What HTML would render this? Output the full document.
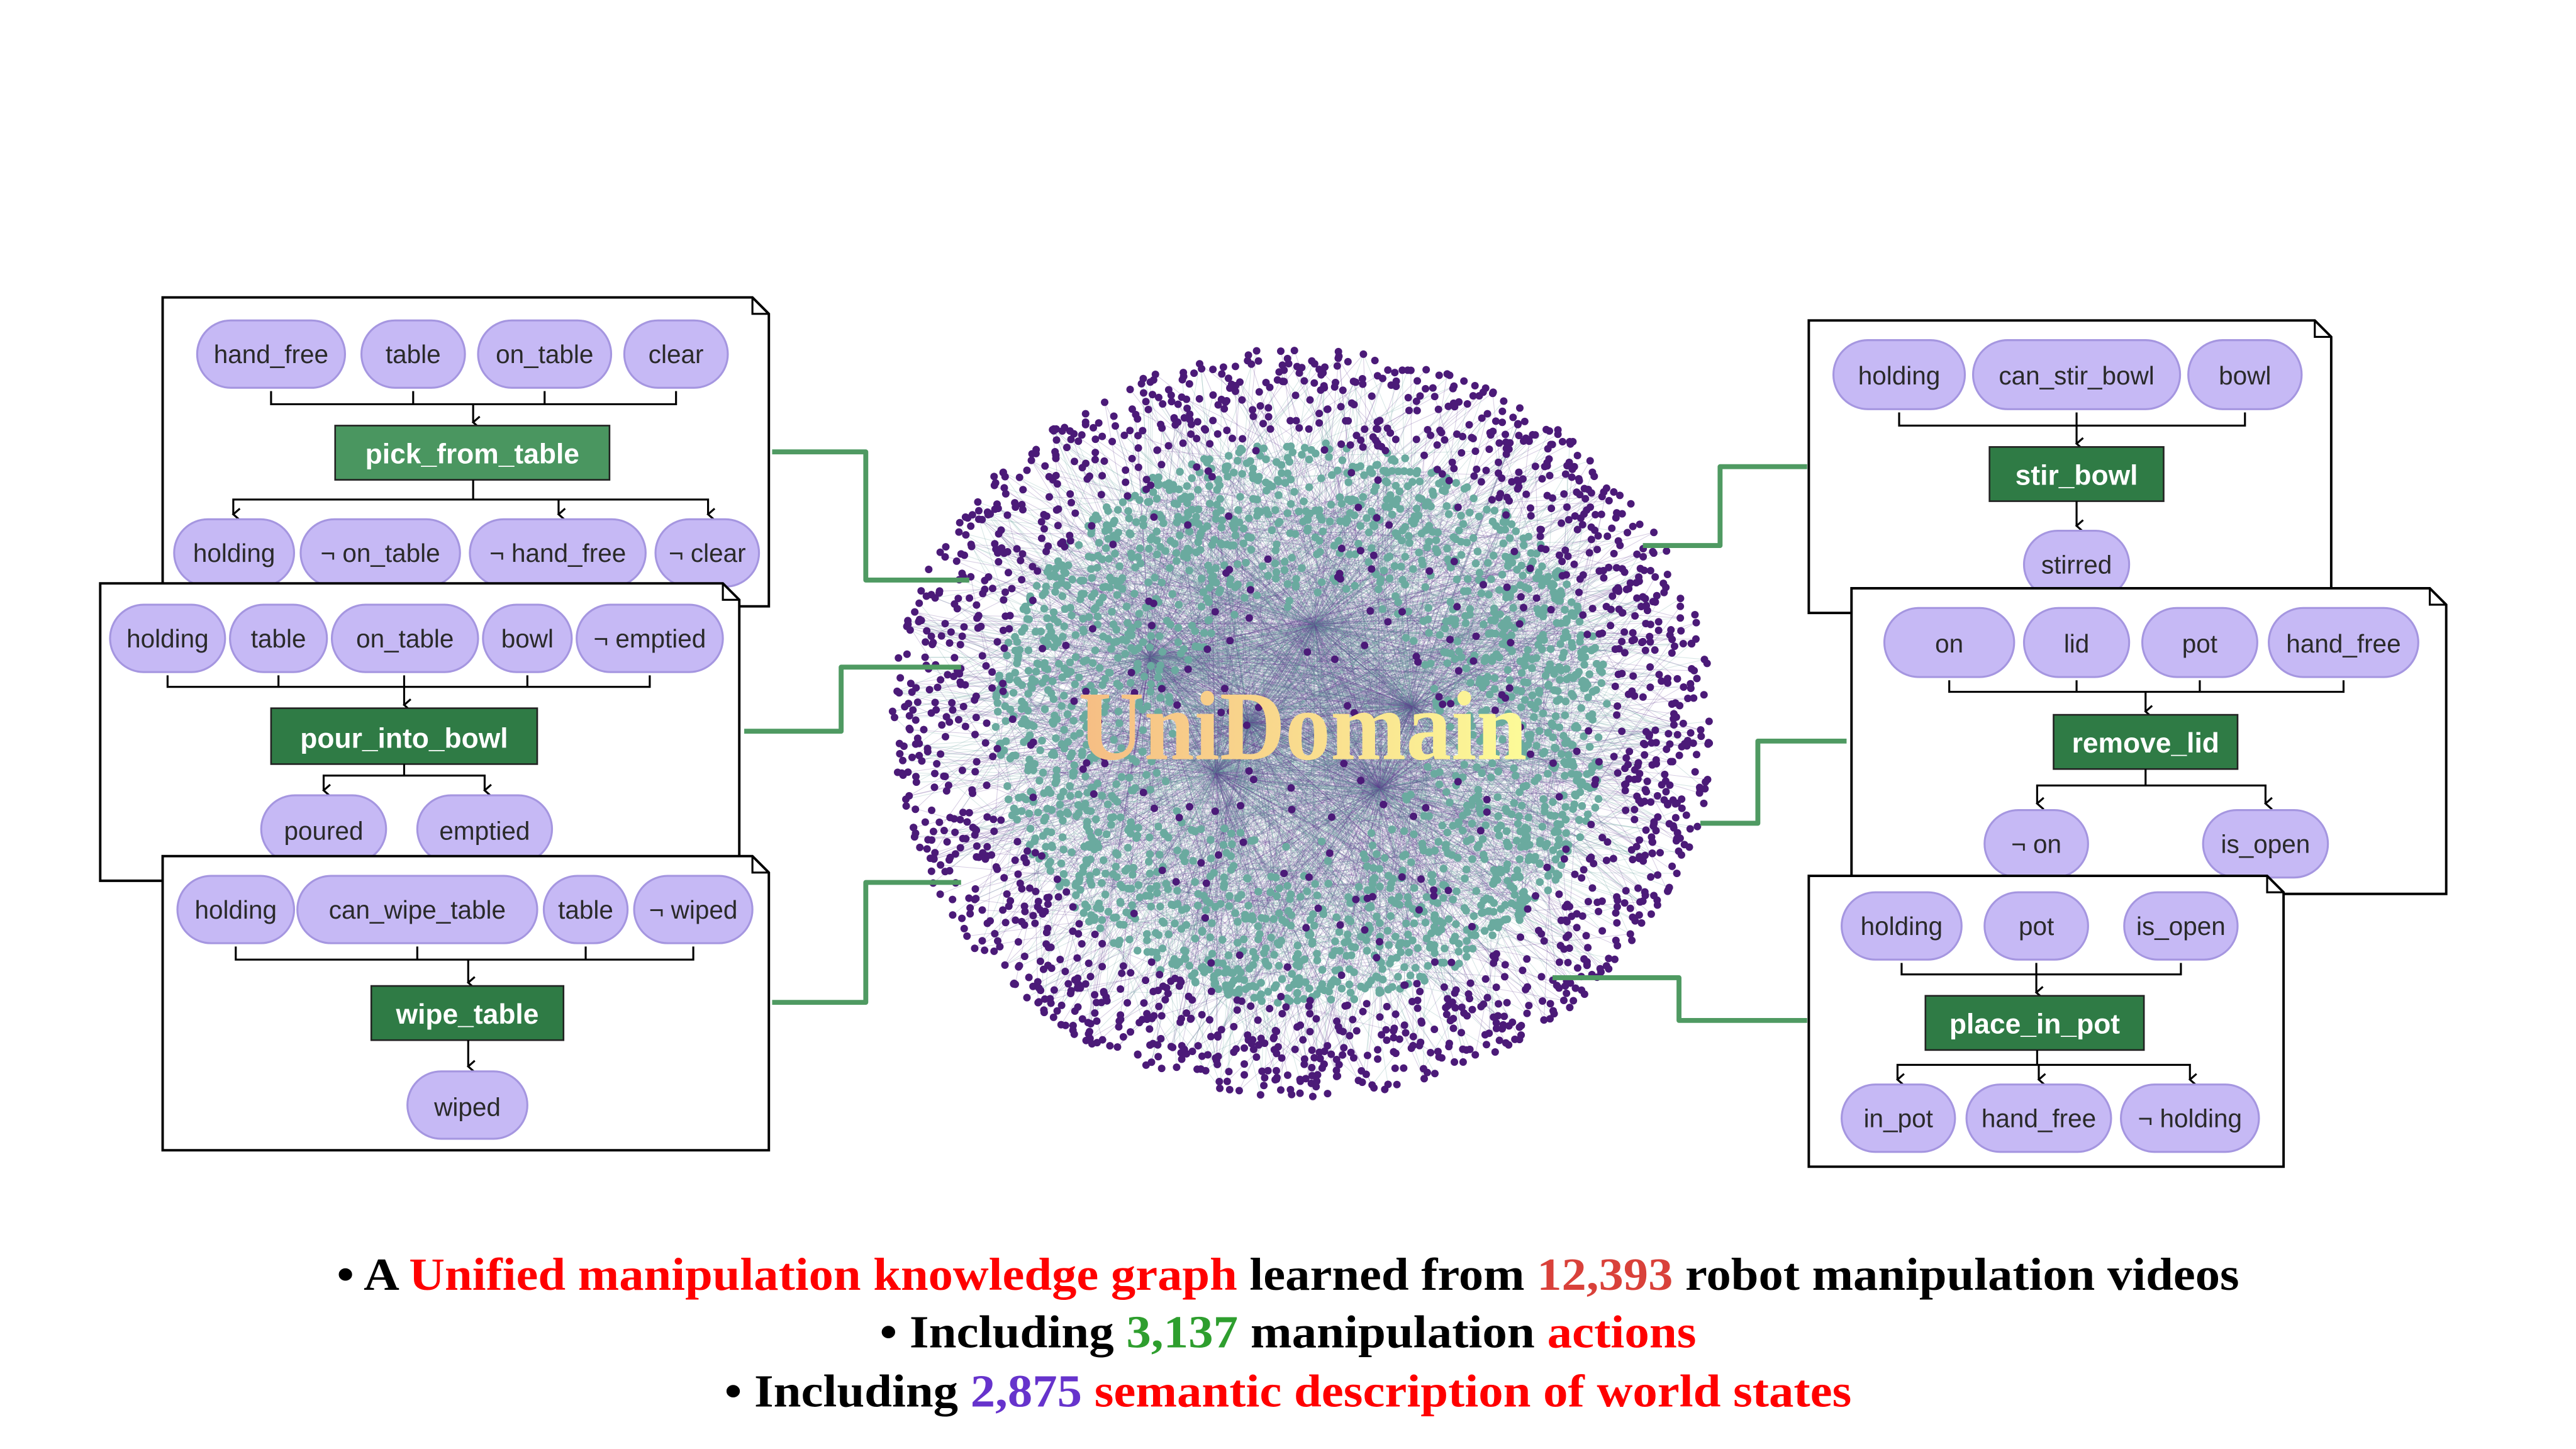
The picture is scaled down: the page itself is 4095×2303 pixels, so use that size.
<!DOCTYPE html>
<html><head><meta charset="utf-8"><style>
html,body{margin:0;padding:0;background:#fff;overflow:hidden}
svg{display:block}
.pl rect{fill:#c6b9f5;stroke:#a596e0;stroke-width:1.2}
.pt{font-family:"Liberation Sans",sans-serif;font-size:15.5px;fill:#2a2a2a;text-anchor:middle}
.bx{fill:#2f7b45;stroke:#222;stroke-width:1}
.bt{font-family:"Liberation Sans",sans-serif;font-size:17px;font-weight:bold;fill:#fff;text-anchor:middle}
.pn{fill:#fff;stroke:#000;stroke-width:1.5}
.ln{fill:none;stroke:#000;stroke-width:1.2}
.gc{fill:none;stroke:#4f9a62;stroke-width:3;stroke-linejoin:round}
.cap{font-family:"Liberation Serif",serif;font-weight:bold;font-size:28px}
</style></head><body>
<svg id="s" width="4095" height="2303" viewBox="0 0 1568 881.8" preserveAspectRatio="none" xmlns="http://www.w3.org/2000/svg">
<defs>
<marker id="ar" markerWidth="8" markerHeight="8" refX="4" refY="6" orient="auto-start-reverse" markerUnits="userSpaceOnUse">
<polyline points="0.5,2 4,6 7.5,2" fill="none" stroke="#000" stroke-width="1.2"/></marker>
<linearGradient id="ug" x1="0" x2="1" y1="0" y2="0"><stop offset="0" stop-color="#f6bd84"/><stop offset="1" stop-color="#fcfb98"/></linearGradient>
</defs>
<g id="graph"></g>
<text x="793" y="462" text-anchor="middle" font-family="Liberation Serif,serif" font-weight="bold" font-size="60" fill="url(#ug)" textLength="273" lengthAdjust="spacingAndGlyphs">UniDomain</text>

<!-- connectors -->
<path class="gc" d="M470,275 H527 V353 H590"/>
<path class="gc" d="M453,445 H512 V406 H585"/>
<path class="gc" d="M470,610 H527 V537 H585"/>
<path class="gc" d="M1100,284 H1047 V332 H1000"/>
<path class="gc" d="M1124,451 H1070 V501 H1035"/>
<path class="gc" d="M1100,621 H1022 V595 H945"/>

<!-- Panel 1 -->
<path class="pn" d="M99,181 H458 L468,191 V369 H99 Z"/><path d="M458,181 V191 H468" class="ln"/>
<g class="pl"><rect x="120" y="195" width="90" height="41" rx="20.5"/><rect x="220" y="195" width="63" height="41" rx="20.5"/><rect x="291" y="195" width="81" height="41" rx="20.5"/><rect x="380" y="195" width="63" height="41" rx="20.5"/></g>
<g class="pt"><text x="165" y="221">hand_free</text><text x="251.5" y="221">table</text><text x="331.5" y="221">on_table</text><text x="411.5" y="221">clear</text></g>
<path class="ln" d="M165,238 V246 H411.5 V238 M251.5,238 V246 M331.5,238 V246"/>
<path class="ln" d="M288,246 V257" marker-end="url(#ar)"/>
<rect class="bx" x="204" y="259" width="167" height="33" style="fill:#4a9660"/><text class="bt" x="287.5" y="282">pick_from_table</text>
<path class="ln" d="M288,292 V304"/><path class="ln" d="M142,313 V304 H431 V313" marker-start="url(#ar)" marker-end="url(#ar)"/><path class="ln" d="M340,304 V313" marker-end="url(#ar)"/>
<g class="pl"><rect x="106" y="316" width="73" height="41" rx="20.5"/><rect x="183" y="316" width="97" height="41" rx="20.5"/><rect x="286" y="316" width="107" height="41" rx="20.5"/><rect x="399" y="316" width="63" height="41" rx="20.5"/></g>
<g class="pt"><text x="142.5" y="342">holding</text><text x="231.5" y="342">¬ on_table</text><text x="339.5" y="342">¬ hand_free</text><text x="430.5" y="342">¬ clear</text></g>

<!-- Panel 2 -->
<path class="pn" d="M61,355 H440 L450,365 V536 H61 Z"/><path d="M440,355 V365 H450" class="ln"/>
<g class="pl"><rect x="67" y="368" width="70" height="41" rx="20.5"/><rect x="140" y="368" width="59" height="41" rx="20.5"/><rect x="202" y="368" width="89" height="41" rx="20.5"/><rect x="294" y="368" width="54" height="41" rx="20.5"/><rect x="351" y="368" width="89" height="41" rx="20.5"/></g>
<g class="pt"><text x="102" y="394">holding</text><text x="169.5" y="394">table</text><text x="246.5" y="394">on_table</text><text x="321" y="394">bowl</text><text x="395.5" y="394">¬ emptied</text></g>
<path class="ln" d="M102,411 V418 H395.5 V411 M169.5,411 V418 M321,411 V418"/>
<path class="ln" d="M246,411 V429" marker-end="url(#ar)"/>
<rect class="bx" x="165" y="431" width="162" height="34"/><text class="bt" x="246" y="455">pour_into_bowl</text>
<path class="ln" d="M246,465 V472"/><path class="ln" d="M197,481 V472 H295 V481" marker-start="url(#ar)" marker-end="url(#ar)"/>
<g class="pl"><rect x="159" y="484" width="76" height="41" rx="20.5"/><rect x="254" y="484" width="82" height="41" rx="20.5"/></g>
<g class="pt"><text x="197" y="511">poured</text><text x="295" y="511">emptied</text></g>

<!-- Panel 3 -->
<path class="pn" d="M99,521 H458 L468,531 V700 H99 Z"/><path d="M458,521 V531 H468" class="ln"/>
<g class="pl"><rect x="108" y="533" width="71" height="41" rx="20.5"/><rect x="181" y="533" width="146" height="41" rx="20.5"/><rect x="331" y="533" width="51" height="41" rx="20.5"/><rect x="386" y="533" width="72" height="41" rx="20.5"/></g>
<g class="pt"><text x="143.5" y="559">holding</text><text x="254" y="559">can_wipe_table</text><text x="356.5" y="559">table</text><text x="422" y="559">¬ wiped</text></g>
<path class="ln" d="M143.5,576 V584 H422 V576 M254,576 V584 M356.5,576 V584"/>
<path class="ln" d="M285,584 V598" marker-end="url(#ar)"/>
<rect class="bx" x="226" y="600" width="117" height="33"/><text class="bt" x="284.5" y="623">wipe_table</text>
<path class="ln" d="M285,633 V649" marker-end="url(#ar)"/>
<g class="pl"><rect x="248" y="652" width="73" height="41" rx="20.5"/></g>
<g class="pt"><text x="284.5" y="679">wiped</text></g>

<!-- Right A -->
<path class="pn" d="M1101,195 H1409 L1419,205 V373 H1101 Z"/><path d="M1409,195 V205 H1419" class="ln"/>
<g class="pl"><rect x="1116" y="207" width="80" height="42" rx="21"/><rect x="1201" y="207" width="126" height="42" rx="21"/><rect x="1332" y="207" width="69" height="42" rx="21"/></g>
<g class="pt"><text x="1156" y="234">holding</text><text x="1264" y="234">can_stir_bowl</text><text x="1366.5" y="234">bowl</text></g>
<path class="ln" d="M1156,251 V259 H1366.5 V251"/>
<path class="ln" d="M1264,251 V270" marker-end="url(#ar)"/>
<rect class="bx" x="1211" y="272" width="106" height="33"/><text class="bt" x="1264" y="295">stir_bowl</text>
<path class="ln" d="M1264,305 V320" marker-end="url(#ar)"/>
<g class="pl"><rect x="1232" y="323" width="64" height="41" rx="20.5"/></g>
<g class="pt"><text x="1264" y="349">stirred</text></g>

<!-- Right B -->
<path class="pn" d="M1127,358 H1479 L1489,368 V544 H1127 Z"/><path d="M1479,358 V368 H1489" class="ln"/>
<g class="pl"><rect x="1147" y="370" width="79" height="42" rx="21"/><rect x="1232" y="370" width="64" height="42" rx="21"/><rect x="1304" y="370" width="70" height="42" rx="21"/><rect x="1381" y="370" width="91" height="42" rx="21"/></g>
<g class="pt"><text x="1186.5" y="397">on</text><text x="1264" y="397">lid</text><text x="1339" y="397">pot</text><text x="1426.5" y="397">hand_free</text></g>
<path class="ln" d="M1186.5,414 V421 H1426.5 V414 M1264,414 V421 M1339,414 V421"/>
<path class="ln" d="M1306,421 V433" marker-end="url(#ar)"/>
<rect class="bx" x="1250" y="435" width="112" height="33"/><text class="bt" x="1306" y="458">remove_lid</text>
<path class="ln" d="M1306,468 V478"/><path class="ln" d="M1240,489 V478 H1379 V489" marker-start="url(#ar)" marker-end="url(#ar)"/>
<g class="pl"><rect x="1208" y="493" width="63" height="41" rx="20.5"/><rect x="1341" y="493" width="76" height="41" rx="20.5"/></g>
<g class="pt"><text x="1239.5" y="519">¬ on</text><text x="1379" y="519">is_open</text></g>

<!-- Right C -->
<path class="pn" d="M1101,533 H1380 L1390,543 V710 H1101 Z"/><path d="M1380,533 V543 H1390" class="ln"/>
<g class="pl"><rect x="1121" y="543" width="73" height="41" rx="20.5"/><rect x="1208" y="543" width="63" height="41" rx="20.5"/><rect x="1293" y="543" width="69" height="41" rx="20.5"/></g>
<g class="pt"><text x="1157.5" y="569">holding</text><text x="1239.5" y="569">pot</text><text x="1327.5" y="569">is_open</text></g>
<path class="ln" d="M1157.5,586 V593 H1327.5 V586"/>
<path class="ln" d="M1239.5,586 V604" marker-end="url(#ar)"/>
<rect class="bx" x="1172" y="606" width="133" height="33"/><text class="bt" x="1238.5" y="629">place_in_pot</text>
<path class="ln" d="M1240,639 V648"/><path class="ln" d="M1155,657 V648 H1333 V657" marker-start="url(#ar)" marker-end="url(#ar)"/><path class="ln" d="M1241,648 V657" marker-end="url(#ar)"/>
<g class="pl"><rect x="1121" y="660" width="69" height="41" rx="20.5"/><rect x="1197" y="660" width="88" height="41" rx="20.5"/><rect x="1291" y="660" width="84" height="41" rx="20.5"/></g>
<g class="pt"><text x="1155.5" y="686">in_pot</text><text x="1241" y="686">hand_free</text><text x="1333" y="686">¬ holding</text></g>

<!-- caption -->
<text class="cap" x="784" y="785" text-anchor="middle" textLength="1158" lengthAdjust="spacingAndGlyphs">•  A <tspan fill="#ff0000">Unified manipulation knowledge graph</tspan> learned from <tspan fill="#d9413a">12,393</tspan> robot manipulation videos</text>
<text class="cap" x="784" y="820" text-anchor="middle" textLength="497" lengthAdjust="spacingAndGlyphs">•  Including <tspan fill="#2e9e2e">3,137</tspan> manipulation <tspan fill="#ff0000">actions</tspan></text>
<text class="cap" x="784" y="856" text-anchor="middle" textLength="686" lengthAdjust="spacingAndGlyphs">•  Including <tspan fill="#6633cc">2,875</tspan> <tspan fill="#ff0000">semantic description of world states</tspan></text>
</svg>
<script>
(function(){
var s=12345;function r(){s=(s*1103515245+12345)%2147483648;return s/2147483648;}
var g=document.getElementById('graph'),cx=793,cy=440,rx=250,ry=228,h='';
var teal=[];
for(var i=0;i<2000;i++){var a=r()*6.2832,k=0.3+0.45*Math.sqrt(r());teal.push([cx+Math.cos(a)*rx*k,cy+Math.sin(a)*ry*k]);}
var purp=[];
for(var i=0;i<1500;i++){var a=r()*6.2832,k=0.72+0.28*Math.pow(r(),0.6);purp.push([cx+Math.cos(a)*rx*k,cy+Math.sin(a)*ry*k]);}
for(var i=0;i<160;i++){var a=r()*6.2832,k=Math.sqrt(r())*0.75;purp.push([cx+Math.cos(a)*rx*k,cy+Math.sin(a)*ry*k]);}
var hubs=[[760,440],[700,400],[860,430],[800,380],[740,470],[840,480]];
for(var i=0;i<3500;i++){var p=r()<0.5?teal[(r()*teal.length)|0]:purp[(r()*purp.length)|0];var q=r()<0.6?hubs[(r()*6)|0]:teal[(r()*teal.length)|0];
h+='<line x1="'+p[0].toFixed(1)+'" y1="'+p[1].toFixed(1)+'" x2="'+q[0].toFixed(1)+'" y2="'+q[1].toFixed(1)+'" stroke="'+(r()<0.5?'#5e3a8e':'#5f9a98')+'" stroke-opacity="0.25" stroke-width="0.4"/>';}
teal.forEach(function(p){h+='<circle cx="'+p[0].toFixed(1)+'" cy="'+p[1].toFixed(1)+'" r="2.4" fill="#6aaa9f"/>';});
purp.forEach(function(p){h+='<circle cx="'+p[0].toFixed(1)+'" cy="'+p[1].toFixed(1)+'" r="2.3" fill="#4b1a78"/>';});
g.innerHTML=h;
})();
</script>
</body></html>
